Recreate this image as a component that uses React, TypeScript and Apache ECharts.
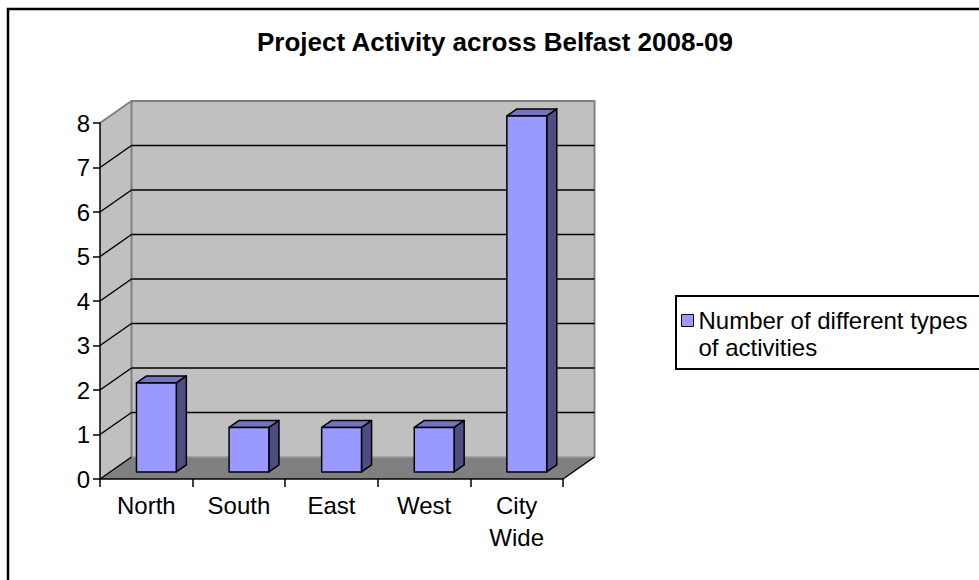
import React, { useEffect, useRef } from 'react';
import * as echarts from 'echarts';

const TITLE = 'Project Activity across Belfast 2008-09';
const CATEGORIES = ['North', 'South', 'East', 'West', 'City Wide'];
const VALUES = [2, 1, 1, 1, 8];
const SERIES_NAME = 'Number of different types of activities';
const LEGEND_LINES = ['Number of different types', 'of activities'];
const Y_MIN = 0;
const Y_MAX = 8;
const Y_STEP = 1;
const GRID_LEVELS = [0, 1, 2, 3, 4, 5, 6, 7, 8];

// 3D look (pixel offsets of the depth axis)
const DX = 31.5;
const DY = -22;
const BAR_FRONT = 0.32;
const BAR_BACK = 0.64;
const BAR_WIDTH = 0.43;

const FONT = "'Liberation Sans', Arial, sans-serif";

export default function App() {
  const ref = useRef<HTMLDivElement>(null);

  useEffect(() => {
    document.body.style.margin = '0';
    const chart = echarts.init(ref.current!, null, { renderer: 'svg' });

    const frame = (api: any) => {
      const cw = api.size([1, 0])[0];
      const p0 = api.coord([0, Y_MIN]);
      const left = p0[0] - cw / 2;
      const right = api.coord([CATEGORIES.length - 1, Y_MIN])[0] + cw / 2;
      const bottom = p0[1];
      const top = api.coord([0, Y_MAX])[1];
      return { left, right, bottom, top, cw };
    };

    const option: any = {
      animation: false,
      backgroundColor: '#ffffff',
      title: {
        text: TITLE,
        left: 495,
        textAlign: 'center',
        top: 29,
        padding: 0,
        textStyle: { fontFamily: FONT, fontSize: 26, fontWeight: 'bold', color: '#000' },
      },
      legend: {
        data: [SERIES_NAME],
        left: 681,
        top: 280,
        padding: 0,
        icon: 'rect',
        itemWidth: 12,
        itemHeight: 12,
        itemStyle: { borderColor: '#000', borderWidth: 1 },
        formatter: () => ' \n' + LEGEND_LINES.join('\n'),
        textStyle: {
          fontFamily: FONT,
          fontSize: 24,
          lineHeight: 27,
          color: '#000',
        },
      },
      grid: { left: 100, top: 123, width: 463, height: 356 },
      xAxis: {
        type: 'category',
        data: CATEGORIES,
        z: 5,
        axisLine: { show: true, lineStyle: { color: '#000', width: 1.5 } },
        axisTick: { show: true, length: 8, lineStyle: { color: '#000', width: 1.5 } },
        axisLabel: {
          fontFamily: FONT,
          fontSize: 24,
          lineHeight: 32,
          color: '#000',
          margin: 10,
          formatter: (v: string) => v.replace(' ', '\n'),
        },
        splitLine: { show: false },
      },
      yAxis: {
        type: 'value',
        min: Y_MIN,
        max: Y_MAX,
        interval: Y_STEP,
        z: 5,
        axisLine: { show: true, lineStyle: { color: '#000', width: 1.5 } },
        axisTick: { show: true, length: 7, lineStyle: { color: '#000', width: 1.5 } },
        axisLabel: { fontFamily: FONT, fontSize: 24, color: '#000', margin: 10 },
        splitLine: { show: false },
      },
      graphic: [
        {
          type: 'rect',
          shape: { x: 8, y: 9, width: 1100, height: 1000 },
          style: { fill: 'none', stroke: '#000', lineWidth: 2.5 },
          z: 10,
          silent: true,
        },
        {
          type: 'rect',
          shape: { x: 676, y: 296, width: 400, height: 73 },
          style: { fill: 'none', stroke: '#000', lineWidth: 2 },
          z: 10,
          silent: true,
        },
      ],
      series: [
        {
          type: 'custom',
          name: 'walls',
          z: 1,
          clip: false,
          silent: true,
          data: [[0, Y_MIN]],
          encode: { x: 0, y: 1 },
          renderItem: (params: any, api: any) => {
            const f = frame(api);
            const L = f.left, R = f.right, B = f.bottom, T = f.top;
            return {
              type: 'group',
              children: [
                {
                  type: 'polygon',
                  shape: { points: [[L, T], [L + DX, T + DY], [L + DX, B + DY], [L, B]] },
                  style: { fill: '#C0C0C0', stroke: null },
                },
                {
                  type: 'polygon',
                  shape: { points: [[L + DX, T + DY], [R + DX, T + DY], [R + DX, B + DY], [L + DX, B + DY]] },
                  style: { fill: '#C0C0C0', stroke: null },
                },
                {
                  type: 'polygon',
                  shape: { points: [[L, B], [L + DX, B + DY], [R + DX, B + DY], [R, B]] },
                  style: { fill: '#808080', stroke: null },
                },
                {
                  type: 'polyline',
                  shape: { points: [[L, T], [L + DX, T + DY], [R + DX, T + DY], [R + DX, B + DY]] },
                  style: { fill: null, stroke: '#808080', lineWidth: 2 },
                },
                {
                  type: 'line',
                  shape: { x1: L + DX, y1: T + DY, x2: L + DX, y2: B + DY },
                  style: { stroke: '#808080', lineWidth: 2 },
                },
                {
                  type: 'line',
                  shape: { x1: L + DX, y1: B + DY, x2: R + DX, y2: B + DY },
                  style: { stroke: '#9a9a9a', lineWidth: 1.5 },
                },
                {
                  type: 'line',
                  shape: { x1: R, y1: B, x2: R + DX, y2: B + DY },
                  style: { stroke: '#000', lineWidth: 1.5 },
                },
              ],
            };
          },
        },
        {
          type: 'custom',
          name: 'gridlines',
          z: 2,
          clip: false,
          silent: true,
          data: GRID_LEVELS.map((v) => [0, v]),
          encode: { x: 0, y: 1 },
          renderItem: (params: any, api: any) => {
            const f = frame(api);
            const v = api.value(1);
            const y = api.coord([0, v])[1];
            if (v >= Y_MAX) return { type: 'group', children: [] };
            const children: any[] = [
              {
                type: 'line',
                shape: { x1: f.left, y1: y, x2: f.left + DX, y2: y + DY },
                style: { stroke: '#000', lineWidth: 1.5 },
              },
            ];
            if (v > Y_MIN) {
              children.push({
                type: 'line',
                shape: { x1: f.left + DX, y1: y + DY, x2: f.right + DX, y2: y + DY },
                style: { stroke: '#000', lineWidth: 1.5 },
              });
            }
            return { type: 'group', children };
          },
        },
        {
          type: 'custom',
          name: SERIES_NAME,
          z: 3,
          clip: false,
          itemStyle: { color: '#9999FF' },
          data: CATEGORIES.map((c, i) => [i, VALUES[i]]),
          encode: { x: 0, y: 1 },
          renderItem: (params: any, api: any) => {
            const i = api.value(0);
            const v = api.value(1);
            const c = api.coord([i, v]);
            const b = api.coord([i, Y_MIN]);
            const cw = api.size([1, 0])[0];
            const w = cw * BAR_WIDTH;
            const x0 = c[0] - w / 2;
            const x1 = c[0] + w / 2;
            const fdx = DX * BAR_FRONT, fdy = DY * BAR_FRONT;
            const bdx = DX * BAR_BACK, bdy = DY * BAR_BACK;
            const yt = c[1];
            const yb = b[1];
            const stroke = { stroke: '#000', lineWidth: 1.5, lineJoin: 'round' };
            return {
              type: 'group',
              children: [
                {
                  type: 'polygon',
                  shape: { points: [[x1 + fdx, yt + fdy], [x1 + bdx, yt + bdy], [x1 + bdx, yb + bdy], [x1 + fdx, yb + fdy]] },
                  style: { fill: '#4D4D80', ...stroke },
                },
                {
                  type: 'polygon',
                  shape: { points: [[x0 + fdx, yt + fdy], [x1 + fdx, yt + fdy], [x1 + bdx, yt + bdy], [x0 + bdx, yt + bdy]] },
                  style: { fill: '#7373BF', ...stroke },
                },
                {
                  type: 'polygon',
                  shape: { points: [[x0 + fdx, yt + fdy], [x1 + fdx, yt + fdy], [x1 + fdx, yb + fdy], [x0 + fdx, yb + fdy]] },
                  style: { fill: '#9999FF', ...stroke },
                },
              ],
            };
          },
        },
      ],
    };

    chart.setOption(option);
    return () => chart.dispose();
  }, []);

  return <div ref={ref} style={{ width: 979, height: 580, overflow: 'hidden' }} />;
}
